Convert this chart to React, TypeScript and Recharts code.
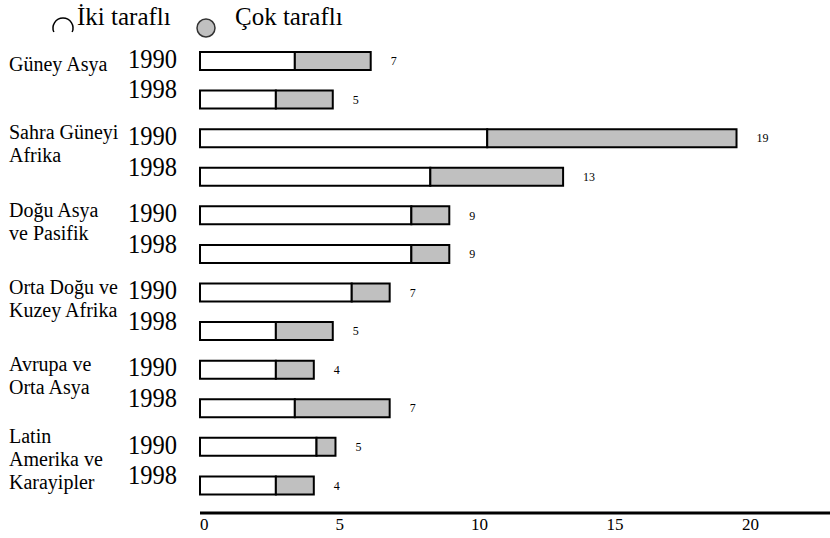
import { BarChart, Bar, XAxis, YAxis, LabelList, Legend } from "recharts"

const REGIONS = [
  ["Güney Asya"],
  ["Sahra Güneyi", "Afrika"],
  ["Doğu Asya", "ve Pasifik"],
  ["Orta Doğu ve", "Kuzey Afrika"],
  ["Avrupa ve", "Orta Asya"],
  ["Latin", "Amerika ve", "Karayipler"],
]
const YEARS = ["1990", "1998"]

// white part (ikili) and grey part (çok taraflı), one entry per bar, top to bottom
const IKI = [3.5, 2.8, 10.6, 8.5, 7.8, 7.8, 5.6, 2.8, 2.8, 3.5, 4.3, 2.8]
const COK = [2.8, 2.1, 9.2, 4.9, 1.4, 1.4, 1.4, 2.1, 1.4, 3.5, 0.7, 1.4]
const TOTAL_LABELS = [7, 5, 19, 13, 9, 9, 7, 5, 4, 7, 5, 4]

const X_TICKS = [0, 5, 10, 15, 20]

const FONT = "Liberation Serif, Times New Roman, serif"

const data = IKI.map((v, i) => ({
  key: `${Math.floor(i / 2)}-${YEARS[i % 2]}`,
  year: YEARS[i % 2],
  iki: v,
  cok: COK[i],
  label: TOTAL_LABELS[i],
}))

function YearTick(props: any) {
  const { y, index } = props
  const year = YEARS[index % 2]
  const region = index % 2 === 0 ? REGIONS[index / 2] : null
  const regionStart = region ? (region.length === 1 ? 10 : region.length === 2 ? 1 : -4) : 0
  return (
    <g>
      <text
        x={177}
        y={y + (index % 2 === 0 ? 6.5 : -1.5)}
        textAnchor="end"
        fontSize={28}
        fontFamily={FONT}
        fill="#000"
        textLength={49}
        lengthAdjust="spacingAndGlyphs"
      >
        {year}
      </text>
      {region &&
        region.map((line, j) => (
          <text key={j} x={9} y={y + regionStart + j * 23} fontSize={20} fontFamily={FONT} fill="#000">
            {line}
          </text>
        ))}
    </g>
  )
}

function ValueTick(props: any) {
  const { x, y, payload } = props
  return (
    <text x={x} y={y} dy="0.71em" textAnchor="start" fontSize={17} fontFamily={FONT} fill="#000">
      {payload.value}
    </text>
  )
}

function TotalLabel(props: any) {
  const { x, y, width, height, index } = props
  return (
    <text x={x + width + 20} y={y + height / 2} dy="0.35em" fontSize={12} fontFamily={FONT} fill="#000">
      {TOTAL_LABELS[index]}
    </text>
  )
}

function LegendContent() {
  const r = 10
  const cx = 63
  const cy = 28
  const a1 = (156 * Math.PI) / 180
  const a2 = (24 * Math.PI) / 180
  return (
    <svg width={830} height={45} style={{ display: "block" }}>
      <path
        d={`M ${cx + r * Math.cos(a1)} ${cy + r * Math.sin(a1)} A ${r} ${r} 0 1 1 ${cx + r * Math.cos(a2)} ${cy + r * Math.sin(a2)}`}
        fill="none"
        stroke="#000"
        strokeWidth={1.5}
      />
      <text x={77} y={25} fontSize={25} fontFamily={FONT} fill="#000">
        İki taraflı
      </text>
      <circle cx={206} cy={28} r={9} fill="#c0c0c0" stroke="#333" strokeWidth={1.5} />
      <text x={235} y={25} fontSize={25} fontFamily={FONT} fill="#000">
        Çok taraflı
      </text>
    </svg>
  )
}

export default function App() {
  return (
    <div style={{ position: "absolute", left: 0, top: 0, width: 830, height: 538, background: "#fff", fontFamily: FONT }}>
      <BarChart
        width={830}
        height={538}
        data={data}
        layout="vertical"
        margin={{ top: 42, right: 0, bottom: 0, left: 0 }}
        barCategoryGap={0}
      >
        <XAxis
          type="number"
          domain={[0, 23.25]}
          ticks={X_TICKS}
          height={25}
          tickLine={false}
          tickSize={0}
          tickMargin={5}
          axisLine={{ stroke: "#000", strokeWidth: 3 }}
          tick={<ValueTick />}
          interval={0}
        />
        <YAxis
          type="category"
          dataKey="key"
          width={200}
          tickLine={false}
          axisLine={false}
          tick={<YearTick />}
          interval={0}
          padding={{ top: 0, bottom: 8 }}
        />
        <Legend
          layout="vertical"
          align="center"
          verticalAlign="middle"
          wrapperStyle={{ top: 0, left: 0, width: 830, height: 45 }}
          content={<LegendContent />}
        />
        <Bar
          dataKey="iki"
          name="İki taraflı"
          stackId="a"
          fill="#ffffff"
          stroke="#000"
          strokeWidth={2}
          barSize={18}
          isAnimationActive={false}
        />
        <Bar
          dataKey="cok"
          name="Çok taraflı"
          stackId="a"
          fill="#c0c0c0"
          stroke="#000"
          strokeWidth={2}
          barSize={18}
          isAnimationActive={false}
        >
          <LabelList dataKey="label" content={<TotalLabel />} />
        </Bar>
      </BarChart>
    </div>
  )
}
